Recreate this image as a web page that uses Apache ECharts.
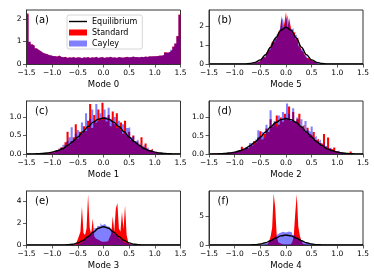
<!DOCTYPE html>
<html><head><meta charset="utf-8">
<script src="https://cdn.jsdelivr.net/npm/echarts@6/dist/echarts.min.js"></script>
<style>html,body{margin:0;padding:0;background:#fff}#c{width:374px;height:280px}</style>
</head><body><div id="c"></div><script>
// ---- data ----
const xTicks = [-1.5, -1, -0.5, 0, 0.5, 1, 1.5];
const curveX = [-1.5,-1.4,-1.3,-1.2,-1.1,-1.0,-0.9,-0.8,-0.7,-0.6,-0.5,-0.4,-0.3,-0.2,-0.1,0,0.1,0.2,0.3,0.4,0.5,0.6,0.7,0.8,0.9,1.0,1.1,1.2,1.3,1.4,1.5];

// Mode 0 (a)
const binStartA = -1.5, binWidthA = 0.04;
const stdA = [2.25,0.98,0.88,0.8,0.7,0.62,0.58,0.5,0.47,0.44,0.4,0.38,0.36,0.35,0.33,0.38,0.31,0.3,0.32,0.27,0.3,0.28,0.31,0.27,0.3,0.29,0.26,0.3,0.28,0.31,0.27,0.3,0.28,0.32,0.27,0.29,0.31,0.27,0.3,0.29,0.32,0.28,0.3,0.27,0.31,0.29,0.28,0.3,0.32,0.29,0.3,0.33,0.3,0.31,0.29,0.32,0.3,0.33,0.31,0.34,0.33,0.35,0.34,0.36,0.38,0.37,0.4,0.52,0.5,0.55,0.62,0.78,0.9,1.25,2.2];
const cayA = [2.2,1.0,0.86,0.82,0.69,0.63,0.56,0.51,0.46,0.45,0.39,0.39,0.35,0.36,0.32,0.37,0.32,0.29,0.31,0.28,0.29,0.29,0.3,0.28,0.29,0.3,0.27,0.29,0.29,0.3,0.28,0.29,0.29,0.31,0.28,0.3,0.3,0.28,0.29,0.3,0.31,0.29,0.29,0.28,0.3,0.3,0.29,0.29,0.31,0.3,0.31,0.32,0.31,0.3,0.3,0.31,0.31,0.32,0.32,0.33,0.34,0.34,0.35,0.35,0.37,0.38,0.41,0.5,0.51,0.54,0.63,0.76,0.92,1.22,2.18];
const yTicksA = [0, 1, 2];

// Mode 5 (b)
const binStartB = -0.75, binWidthB = 0.03;
const stdB = [0.02,0,0.03,0.02,0.05,0.06,0.1,0.15,0.2,0.28,0.4,0.35,0.55,0.7,0.75,1.0,1.2,1.15,1.5,1.3,1.75,1.6,2.55,1.8,2.2,2.75,1.85,2.45,2.0,1.6,1.7,1.3,1.4,0.9,1.05,0.7,0.62,0.5,0.35,0.3,0.2,0.18,0.1,0.08,0.04,0.05,0.01];
const cayB = [0,0.02,0.01,0.03,0.04,0.08,0.1,0.12,0.22,0.3,0.35,0.45,0.6,0.65,0.85,0.95,1.1,1.3,1.35,1.6,1.45,1.85,2.25,2.45,1.95,2.3,2.6,2.05,1.8,1.9,1.5,1.55,1.2,1.05,0.85,0.75,0.55,0.45,0.4,0.28,0.2,0.15,0.12,0.06,0.05,0.03,0.03];
const eqB = [0,0,0,0,0,0,0.002,0.008,0.028,0.086,0.22,0.49,0.89,1.38,1.79,1.95,1.79,1.38,0.89,0.49,0.22,0.086,0.028,0.008,0.002,0,0,0,0,0,0];
const yTicksB = [0, 1, 2];

// Mode 1 (c)
const binStartC = -1.2, binWidthC = 0.04;
const stdC = [0.02,0,0.03,0.02,0.06,0.04,0.08,0.12,0.1,0.18,0.14,0.32,0.6,0.25,0.35,0.45,0.8,0.42,0.6,0.55,0.75,0.62,0.9,1.35,0.7,1.05,0.85,1.2,0.95,1.38,1.0,0.88,1.05,0.75,1.15,0.8,1.1,0.72,0.85,0.55,0.9,0.5,0.6,0.38,0.5,0.3,0.35,0.22,0.45,0.18,0.28,0.12,0.1,0.15,0.05,0.06,0.03,0.02,0.01,0];
const cayC = [0,0.02,0.01,0.04,0.03,0.05,0.1,0.07,0.15,0.12,0.25,0.2,0.35,0.45,0.72,0.4,0.55,0.65,0.5,0.85,0.6,1.1,0.7,0.95,1.2,0.85,1.35,0.9,1.1,0.92,1.2,1.0,1.25,0.95,0.85,1.0,0.7,0.9,0.65,0.8,0.55,0.7,0.72,0.45,0.5,0.35,0.4,0.28,0.2,0.25,0.15,0.18,0.08,0.1,0.06,0.05,0.03,0.04,0.02,0.01];
const eqC = [0.001,0.003,0.006,0.013,0.027,0.05,0.087,0.14,0.23,0.33,0.46,0.6,0.74,0.86,0.94,0.97,0.94,0.86,0.74,0.6,0.46,0.33,0.23,0.14,0.087,0.05,0.027,0.013,0.006,0.003,0.001];
const yTicksC = [0, 0.5, 1];

// Mode 2 (d)
const binStartD = -1.44, binWidthD = 0.04;
const stdD = [0,0.03,0,0.01,0.02,0,0.03,0.02,0.04,0.03,0.05,0.06,0.08,0.1,0.2,0.12,0.18,0.15,0.25,0.22,0.35,0.3,0.45,0.62,0.4,0.55,0.7,0.6,0.95,0.75,0.85,1.05,0.8,1.0,0.88,1.1,0.95,1.3,0.9,1.15,0.85,0.95,1.1,0.75,0.8,0.6,0.72,0.55,0.5,0.6,0.38,0.42,0.3,0.28,0.55,0.2,0.45,0.15,0.12,0.18,0.08,0.06,0.05,0.03,0.02,0,0.01,0.07];
const cayD = [0.02,0,0.02,0,0.01,0.03,0.02,0.05,0.02,0.04,0.06,0.05,0.09,0.12,0.08,0.15,0.2,0.18,0.3,0.28,0.25,0.4,0.65,0.5,0.6,0.45,0.8,0.65,1.2,0.8,0.9,0.75,1.05,0.95,1.15,1.0,1.38,1.1,0.95,1.25,0.9,1.0,0.8,0.95,0.7,0.9,0.65,0.6,0.75,0.45,0.5,0.35,0.4,0.25,0.3,0.22,0.15,0.18,0.1,0.08,0.06,0.1,0.04,0.03,0.02,0.01,0,0];
const eqD = [0.001,0.003,0.006,0.013,0.027,0.05,0.087,0.14,0.23,0.33,0.46,0.6,0.74,0.86,0.94,0.97,0.94,0.86,0.74,0.6,0.46,0.33,0.23,0.14,0.087,0.05,0.027,0.013,0.006,0.003,0.001];
const yTicksD = [0, 0.5, 1];

// Mode 3 (e)
const binStartE = -0.6, binWidthE = 0.03;
const stdE = [0,0.05,0.15,0.4,0.8,1.2,3.5,1.1,0.9,1.5,4.6,1.6,1.0,2.4,0.8,0.6,0.45,0.4,0.3,0.35,0.3,0.4,0.35,0.45,0.7,1.0,2.6,1.2,3.3,3.8,1.5,1.2,3.0,1.4,3.6,0.9,0.3,0.08,0.02,0,0,0,0,0,0,0];
const cayE = [0.01,0.03,0.05,0.1,0.15,0.2,0.3,0.42,0.55,0.7,0.85,1.0,1.2,1.3,1.55,1.5,1.75,1.7,2.0,1.8,1.9,2.05,1.7,1.65,1.5,1.35,1.2,1.0,0.9,0.75,0.6,0.45,0.35,0.25,0.18,0.12,0.08,0.05,0.03,0.02,0.01,0.02,0,0.01,0.15,0.02];
const eqE = [0,0,0,0,0,0,0.001,0.006,0.023,0.073,0.19,0.41,0.76,1.17,1.52,1.66,1.52,1.17,0.76,0.41,0.19,0.073,0.023,0.006,0.001,0,0,0,0,0,0];
const yTicksE = [0, 2, 4];

// Mode 4 (f)
const binStartF = -0.54, binWidthF = 0.03;
const stdF = [0,0,0,0,0,0.05,0.2,0.6,1.5,3.0,9.0,6.5,1.5,0.5,0.2,0.1,0.05,0.05,0.05,0.1,0.1,0.2,0.5,1.4,5.5,8.9,3.2,1.6,0.7,0.2,0.05,0,0,0,0,0,0];
const cayF = [0.02,0.05,0.1,0.15,0.25,0.4,0.55,0.7,0.9,1.1,1.3,1.5,1.8,2.1,1.9,2.3,2.0,2.2,1.9,2.35,2.0,2.2,1.8,1.7,1.5,1.3,1.1,0.9,0.7,0.55,0.45,0.3,0.2,0.15,0.1,0.05,0.02];
const eqF = [0,0,0,0,0,0,0.001,0.004,0.017,0.058,0.165,0.39,0.75,1.2,1.59,1.75,1.59,1.2,0.75,0.39,0.165,0.058,0.017,0.004,0.001,0,0,0,0,0,0];
const yTicksF = [0, 5];

// ---- layout / styling ----
const FONT = 'DejaVu Sans';
const panels = [
  {label:'(a)', name:'Mode 0', start:binStartA, bw:binWidthA, std:stdA, cay:cayA, eq:null, yMax:2.4,  yTicks:yTicksA, dec:0, left:26.5, top:10,  h:54},
  {label:'(b)', name:'Mode 5', start:binStartB, bw:binWidthB, std:stdB, cay:cayB, eq:eqB,  yMax:2.86, yTicks:yTicksB, dec:0, left:209,  top:10,  h:54},
  {label:'(c)', name:'Mode 1', start:binStartC, bw:binWidthC, std:stdC, cay:cayC, eq:eqC,  yMax:1.43, yTicks:yTicksC, dec:1, left:26.5, top:101, h:53},
  {label:'(d)', name:'Mode 2', start:binStartD, bw:binWidthD, std:stdD, cay:cayD, eq:eqD,  yMax:1.45, yTicks:yTicksD, dec:1, left:209,  top:101, h:53},
  {label:'(e)', name:'Mode 3', start:binStartE, bw:binWidthE, std:stdE, cay:cayE, eq:eqE,  yMax:4.9,  yTicks:yTicksE, dec:0, left:26.5, top:191, h:54},
  {label:'(f)', name:'Mode 4', start:binStartF, bw:binWidthF, std:stdF, cay:cayF, eq:eqF,  yMax:9.45, yTicks:yTicksF, dec:0, left:209,  top:191, h:54}
];

function histPoints(start, bw, vals) {
  const pts = vals.map((v, k) => [+(start + k * bw).toFixed(4), v]);
  pts.push([+(start + vals.length * bw).toFixed(4), vals[vals.length - 1]]);
  return pts;
}
const fmtNum = (v, d) => (v < 0 ? '\u2212' : '') + Math.abs(v).toFixed(d);

const grid = [], xAxis = [], yAxis = [], series = [], title = [];
panels.forEach((p, i) => {
  grid.push({left:p.left, top:p.top, width:154, height:p.h, show:true, borderColor:'#333', borderWidth:1, backgroundColor:'rgba(0,0,0,0)'});
  xAxis.push({
    gridIndex:i, type:'value', min:-1.5, max:1.5, interval:0.5, z:5,
    name:p.name, nameLocation:'middle', nameGap:16,
    nameTextStyle:{fontFamily:FONT, fontSize:8.5, color:'#000'},
    axisLine:{show:true, onZero:false, lineStyle:{color:'#333', width:1}},
    axisTick:{show:true, inside:false, length:3.5, lineStyle:{color:'#333', width:0.8}, customValues:xTicks},
    axisLabel:{fontFamily:FONT, fontSize:7.5, color:'#000', margin:5, customValues:xTicks, formatter:v => fmtNum(v, 1)},
    splitLine:{show:false}
  });
  yAxis.push({
    gridIndex:i, type:'value', min:0, max:p.yMax, z:5,
    axisLine:{show:true, onZero:false, lineStyle:{color:'#333', width:1}},
    axisTick:{show:true, inside:false, length:3.5, lineStyle:{color:'#333', width:0.8}, customValues:p.yTicks},
    axisLabel:{fontFamily:FONT, fontSize:7.5, color:'#000', margin:5, customValues:p.yTicks, formatter:v => fmtNum(v, p.dec)},
    splitLine:{show:false}
  });
  series.push({
    type:'line', name:'Standard', xAxisIndex:i, yAxisIndex:i, step:'end', symbol:'none', silent:true,
    data:histPoints(p.start, p.bw, p.std), color:'#ff0000',
    lineStyle:{width:0, opacity:0}, areaStyle:{color:'#ff0000', opacity:1}, z:2
  });
  series.push({
    type:'line', name:'Cayley', xAxisIndex:i, yAxisIndex:i, step:'end', symbol:'none', silent:true,
    data:histPoints(p.start, p.bw, p.cay), color:'#8080ff',
    lineStyle:{width:0, opacity:0}, areaStyle:{color:'#0000ff', opacity:0.5}, z:3
  });
  if (p.eq) {
    series.push({
      type:'line', name:'Equilibrium', xAxisIndex:i, yAxisIndex:i, symbol:'none', silent:true,
      smooth:0.35, smoothMonotone:'x', color:'#000',
      data:curveX.map((x, k) => [x, p.eq[k]]),
      lineStyle:{color:'#000', width:1.4}, z:4
    });
  }
  title.push({text:p.label, left:p.left + 8.5, top:p.top + 5, padding:0,
    textStyle:{fontFamily:FONT, fontSize:10, fontWeight:'normal', color:'#000'}});
});

const chart = echarts.init(document.getElementById('c'), null, {renderer:'canvas'});
chart.setOption({
  animation:false,
  backgroundColor:'#fff',
  title, grid, xAxis, yAxis, series,
  legend:{
    orient:'vertical', left:67, top:15, padding:[2,5,1,2], itemGap:2, itemWidth:18, itemHeight:6,
    backgroundColor:'rgba(255,255,255,0.85)', borderColor:'#cccccc', borderWidth:0.8, borderRadius:2,
    selectedMode:false,
    textStyle:{fontFamily:FONT, fontSize:8, color:'#000', lineHeight:9},
    data:[
      {name:'Equilibrium', icon:'path://M0,0M0,6M0,2.3H18V3.7H0Z', itemStyle:{color:'#000', borderWidth:0}},
      {name:'Standard', icon:'rect', itemStyle:{color:'#ff0000', borderWidth:0}},
      {name:'Cayley', icon:'rect', itemStyle:{color:'#8080ff', borderWidth:0}}
    ]
  }
});
</script></body></html>
